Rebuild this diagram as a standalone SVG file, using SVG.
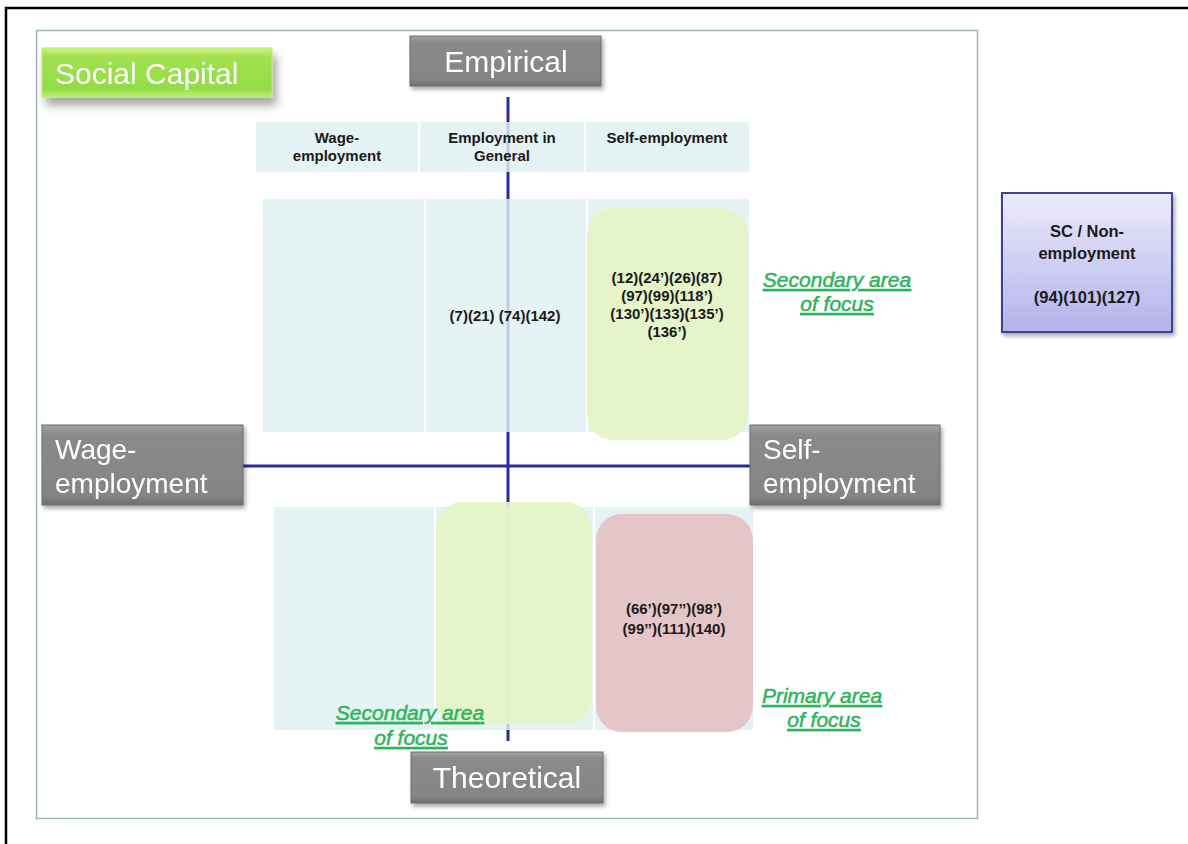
<svg xmlns="http://www.w3.org/2000/svg" width="1188" height="844" viewBox="0 0 1188 844">
  <defs>
    <linearGradient id="grayFill" x1="0" y1="0" x2="0" y2="1">
      <stop offset="0" stop-color="#a4a4a4"/>
      <stop offset="0.12" stop-color="#8a8a8a"/>
      <stop offset="0.88" stop-color="#858585"/>
      <stop offset="1" stop-color="#6e6e6e"/>
    </linearGradient>
    <linearGradient id="greenFill" x1="0" y1="0" x2="0" y2="1">
      <stop offset="0" stop-color="#cdf382"/>
      <stop offset="0.18" stop-color="#a2e150"/>
      <stop offset="0.82" stop-color="#93dc45"/>
      <stop offset="1" stop-color="#bdee72"/>
    </linearGradient>
    <linearGradient id="lavFill" x1="0" y1="0" x2="0" y2="1">
      <stop offset="0" stop-color="#ecebfb"/>
      <stop offset="1" stop-color="#b3b2ea"/>
    </linearGradient>
    <filter id="shadow" x="-10%" y="-10%" width="125%" height="140%">
      <feGaussianBlur in="SourceAlpha" stdDeviation="2"/>
      <feOffset dx="2" dy="3" result="b"/>
      <feComponentTransfer><feFuncA type="linear" slope="0.35"/></feComponentTransfer>
      <feMerge><feMergeNode/><feMergeNode in="SourceGraphic"/></feMerge>
    </filter>
    <filter id="softShadow" x="-10%" y="-20%" width="125%" height="170%">
      <feGaussianBlur in="SourceAlpha" stdDeviation="5"/>
      <feOffset dx="4" dy="8" result="b"/>
      <feComponentTransfer><feFuncA type="linear" slope="0.35"/></feComponentTransfer>
      <feMerge><feMergeNode/><feMergeNode in="SourceGraphic"/></feMerge>
    </filter>
  </defs>
  <style>
    .cell { fill: #e0f0f1; fill-opacity: 0.82; }
    .gray { fill: url(#grayFill); stroke: #6c6c6c; stroke-width: 1; }
    .big { font-family: "Liberation Sans", Arial, sans-serif; font-size: 30px; fill: #ffffff; }
    .side { font-size: 28px; }
    .hdr { font-family: "Liberation Sans", Arial, sans-serif; font-size: 15px; font-weight: bold; fill: #1a1a1a; text-anchor: middle; }
    .ref { font-family: "Liberation Sans", Arial, sans-serif; font-size: 15px; font-weight: bold; fill: #1a1a1a; text-anchor: middle; }
    .box { font-size: 16.5px; }
    .focus { font-family: "Liberation Sans", Arial, sans-serif; font-size: 21px; font-style: italic; fill: #2fb35c; stroke: #2fb35c; stroke-width: 0.5; text-anchor: middle; text-decoration: underline; }
    .axis { stroke: #2b2b9a; stroke-width: 3; fill: none; }
  </style>

  <rect width="1188" height="844" fill="#ffffff"/>
  <!-- page frame -->
  <path d="M6 844 V8 H1188" fill="none" stroke="#000000" stroke-width="2.5"/>
  <!-- slide panel -->
  <rect x="36.5" y="30.5" width="941" height="788" fill="#ffffff" stroke="#9fb4b6" stroke-width="1.5"/>

  <!-- axes -->
  <g id="connectors">
    <line class="axis" x1="508" y1="97" x2="508" y2="741"/>
    <line class="axis" x1="243" y1="466" x2="751" y2="466"/>
  </g>

  <!-- column headings -->
  <g id="header-row">
    <rect class="cell" x="256" y="122" width="162" height="50"/>
    <rect class="cell" x="420" y="122" width="164" height="50"/>
    <rect class="cell" x="586" y="122" width="163" height="50"/>
    <text class="hdr" x="337" y="143">Wage-</text>
    <text class="hdr" x="337" y="161">employment</text>
    <text class="hdr" x="502" y="143">Employment in</text>
    <text class="hdr" x="502" y="161">General</text>
    <text class="hdr" x="667" y="143">Self-employment</text>
  </g>

  <!-- empirical quadrant -->
  <g id="empirical-cells">
    <rect class="cell" x="263" y="199" width="161" height="233"/>
    <rect class="cell" x="426" y="199" width="160" height="233"/>
    <rect class="cell" x="588" y="199" width="161" height="233"/>
    <rect x="587" y="208" width="161" height="232" rx="26" fill="#e6f4c4" fill-opacity="0.9"/>
    <text class="ref" x="505" y="321">(7)(21) (74)(142)</text>
    <text class="ref" x="667" y="283">(12)(24’)(26)(87)</text>
    <text class="ref" x="667" y="301">(97)(99)(118’)</text>
    <text class="ref" x="667" y="319">(130’)(133)(135’)</text>
    <text class="ref" x="667" y="337">(136’)</text>
  </g>

  <!-- theoretical quadrant -->
  <g id="theoretical-cells">
    <rect class="cell" x="274" y="507" width="160" height="223"/>
    <rect class="cell" x="436" y="507" width="157" height="223"/>
    <rect class="cell" x="595" y="507" width="158" height="223"/>
    <rect x="436" y="502" width="156" height="222" rx="26" fill="#e6f4c4" fill-opacity="0.9"/>
    <rect x="596" y="514" width="157" height="218" rx="26" fill="#e5c6c8"/>
    <text class="ref" x="674" y="614">(66’)(97’’)(98’)</text>
    <text class="ref" x="674" y="634">(99’’)(111)(140)</text>
  </g>

  <!-- focus labels -->
  <g id="focus-labels">
    <text class="focus" x="837" y="287">Secondary area</text>
    <text class="focus" x="837" y="311"> of focus</text>
    <text class="focus" x="822" y="703">Primary area</text>
    <text class="focus" x="824" y="727"> of focus</text>
    <text class="focus" x="410" y="720">Secondary area</text>
    <text class="focus" x="411" y="745"> of focus</text>
  </g>

  <!-- title -->
  <g id="social-capital" filter="url(#softShadow)">
    <rect x="42" y="48" width="230" height="49" fill="url(#greenFill)" stroke="#b8ea6e" stroke-width="1"/>
    <text class="big" x="55" y="84" font-size="31">Social Capital</text>
  </g>

  <g id="empirical" filter="url(#shadow)">
    <rect class="gray" x="410" y="36" width="191" height="50"/>
    <text class="big" x="506" y="72" text-anchor="middle">Empirical</text>
  </g>

  <g id="theoretical" filter="url(#shadow)">
    <rect class="gray" x="411" y="752" width="192" height="51"/>
    <text class="big" x="507" y="788" text-anchor="middle">Theoretical</text>
  </g>

  <g id="wage-employment" filter="url(#shadow)">
    <rect class="gray" x="42" y="425" width="201" height="80"/>
    <text class="big side" x="55" y="459">Wage-</text>
    <text class="big side" x="55" y="493">employment</text>
  </g>

  <g id="self-employment" filter="url(#shadow)">
    <rect class="gray" x="750" y="425" width="190" height="80"/>
    <text class="big side" x="763" y="459">Self-</text>
    <text class="big side" x="763" y="493">employment</text>
  </g>

  <g id="non-employment">
    <rect x="1002" y="193" width="170" height="139" fill="url(#lavFill)" stroke="#3f3f9c" stroke-width="2" filter="url(#shadow)"/>
    <text class="ref box" x="1087" y="237">SC / Non-</text>
    <text class="ref box" x="1087" y="259">employment</text>
    <text class="ref box" x="1087" y="303">(94)(101)(127)</text>
  </g>
</svg>
